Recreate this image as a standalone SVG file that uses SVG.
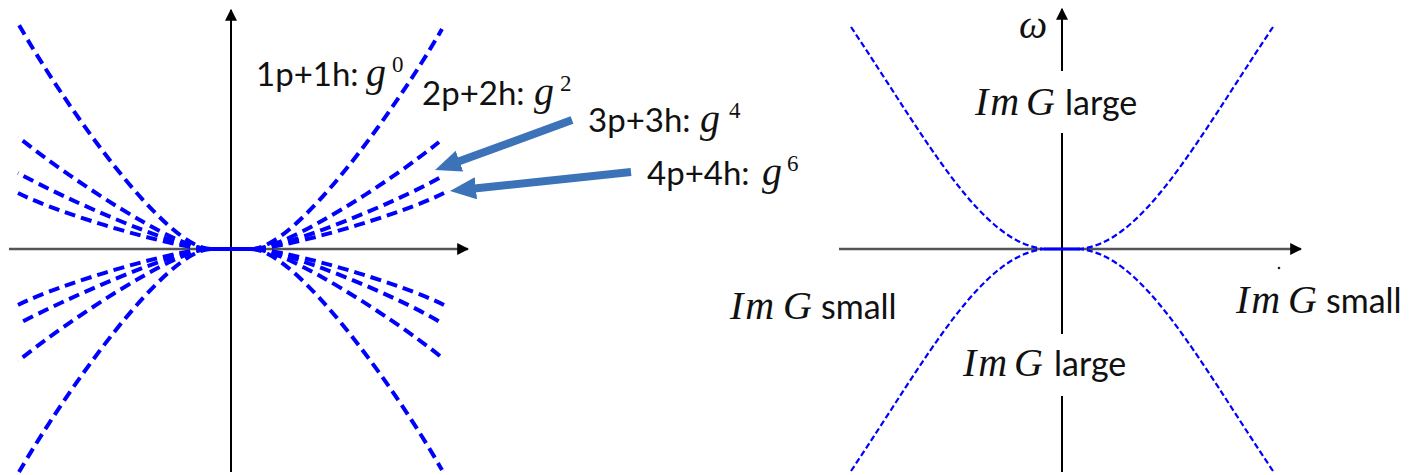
<svg xmlns="http://www.w3.org/2000/svg" width="1412" height="475" viewBox="0 0 1412 475">
<defs>
<style>
.ax{stroke:#000;stroke-width:2;fill:none}
.hax{stroke:#555;stroke-width:2.5;fill:none}
.cl{stroke:#0000ff;stroke-width:4;fill:none;stroke-dasharray:11 6}
.cr{stroke:#0000ff;stroke-width:2.2;fill:none;stroke-dasharray:6 3}
.lbl{font-family:Lato,"Liberation Sans",sans-serif;font-size:33px;fill:#111}
.mi{font-family:"Liberation Serif",serif;font-style:italic;font-size:40px;fill:#111}
.sup{font-family:"Liberation Serif",serif;font-size:23px;fill:#111}
.rl{font-family:Lato,"Liberation Sans",sans-serif;font-size:34px;fill:#111}
.arr{stroke:#3c73b8;stroke-width:8;fill:none}
</style>
<marker id="ah" viewBox="0 0 10 10" refX="9" refY="5" markerWidth="12" markerHeight="12" markerUnits="userSpaceOnUse" orient="auto"><path d="M0,0 L10,5 L0,10 z" fill="#000"/></marker>
<marker id="bh" viewBox="0 0 26 22" refX="4" refY="11" markerWidth="26" markerHeight="22" markerUnits="userSpaceOnUse" orient="auto"><path d="M0,0 L26,11 L0,22 z" fill="#3c73b8"/></marker>
</defs>
<g id="left-axes">
<line class="hax" x1="9" y1="249" x2="468" y2="249" marker-end="url(#ah)"/>
<line class="ax" x1="231" y1="472" x2="231" y2="10" marker-end="url(#ah)"/>
</g>
<g id="left-curves">
<path class="cl" d="M251,249 C296,249 396,109 442,29"/>
<path class="cl" d="M255,249 C290,246 390,182 439,142"/>
<path class="cl" d="M255,249 C290,246 395,203 441,177"/>
<path class="cl" d="M255,249 C290,247 400,215 444,193"/>
<path class="cl" d="M251,249 C296,249 396,389 442,470"/>
<path class="cl" d="M255,249 C290,252 390,316 440,356"/>
<path class="cl" d="M255,249 C290,252 395,295 440,322"/>
<path class="cl" d="M255,249 C290,251 400,283 444,305"/>
<path class="cl" d="M211,249 C166,249 66,107 19,25"/>
<path class="cl" d="M207,249 C172,246 72,180 18,137"/>
<path class="cl" d="M207,249 C172,246 67,200 18,173"/>
<path class="cl" d="M207,249 C172,247 62,215 18,193"/>
<path class="cl" d="M211,249 C166,249 66,391 19,472"/>
<path class="cl" d="M207,249 C172,252 72,318 18,361"/>
<path class="cl" d="M207,249 C172,252 67,298 18,324"/>
<path class="cl" d="M207,249 C172,251 62,283 18,305"/>
<line x1="205" y1="249" x2="258" y2="249" stroke="#0000ff" stroke-width="4"/>
</g>
<g id="label-g0">
<text class="lbl" x="256" y="86">1p+1h:</text>
<text class="mi" x="366" y="86">g</text>
<text class="sup" x="392" y="72">0</text>
</g>
<g id="label-g2">
<text class="lbl" x="422" y="105">2p+2h:</text>
<text class="mi" x="534" y="105">g</text>
<text class="sup" x="560" y="91">2</text>
</g>
<g id="label-g4">
<text class="lbl" x="588" y="132">3p+3h:</text>
<text class="mi" x="700" y="132">g</text>
<text class="sup" x="729" y="118">4</text>
</g>
<g id="label-g6">
<text class="lbl" x="647" y="185">4p+4h:</text>
<text class="mi" x="762" y="185">g</text>
<text class="sup" x="787" y="171">6</text>
</g>
<g id="connectors">
<line class="arr" x1="572" y1="120" x2="455.7" y2="162.5" marker-end="url(#bh)"/>
<line class="arr" x1="631" y1="172" x2="471.9" y2="188.7" marker-end="url(#bh)"/>
</g>
<g id="right-axes">
<line class="hax" x1="839" y1="249" x2="1301" y2="249" marker-end="url(#ah)"/>
<line class="ax" x1="1062" y1="71" x2="1062" y2="9" stroke-width="1.6" marker-end="url(#ah)"/>
<line class="ax" x1="1062" y1="133" x2="1062" y2="334" stroke-width="1.6"/>
<line class="ax" x1="1062" y1="396" x2="1062" y2="472" stroke-width="1.6"/>
<circle cx="1279" cy="268" r="1.3" fill="#222"/>
</g>
<g id="right-curves">
<path class="cr" d="M1078,249 C1142,245 1196,142 1273,27"/>
<path class="cr" d="M1046,249 C982,245 928,142 851,27"/>
<path class="cr" d="M1078,249 C1142,253 1196,356 1273,471"/>
<path class="cr" d="M1046,249 C982,253 928,356 851,471"/>
<line x1="1044" y1="249" x2="1080" y2="249" stroke="#0000ff" stroke-width="3"/>
</g>
<g id="omega"><text class="mi" x="1019" y="38" font-size="34">ω</text></g>
<g id="top-large">
<text class="mi" x="975" y="115" letter-spacing="2">Im</text><text class="mi" x="1026" y="115">G</text>
<text class="rl" x="1065" y="115">large</text>
</g>
<g id="bottom-large">
<text class="mi" x="963" y="376" letter-spacing="2">Im</text><text class="mi" x="1014" y="376">G</text>
<text class="rl" x="1054" y="376">large</text>
</g>
<g id="left-small">
<text class="mi" x="730" y="319" letter-spacing="2">Im</text><text class="mi" x="783" y="319">G</text>
<text class="rl" x="821" y="319">small</text>
</g>
<g id="right-small">
<text class="mi" x="1236" y="313" letter-spacing="2">Im</text><text class="mi" x="1288" y="313">G</text>
<text class="rl" x="1326" y="313">small</text>
</g>
</svg>
